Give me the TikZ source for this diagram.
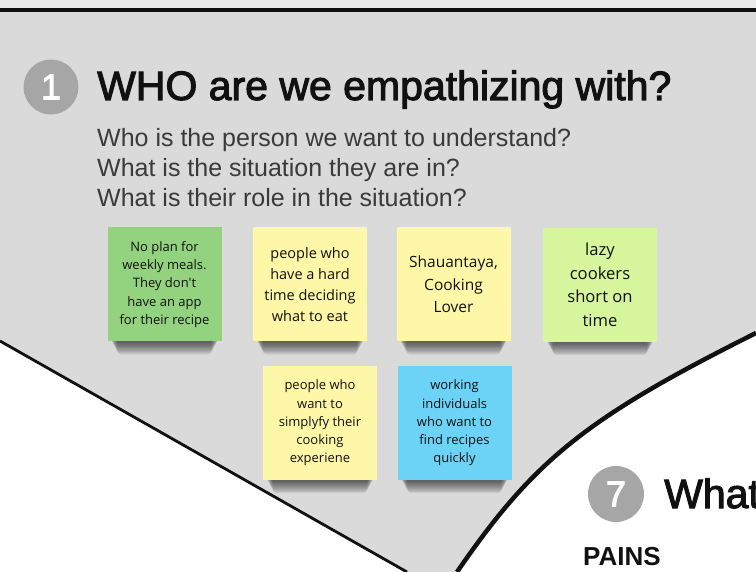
\documentclass[tikz,border=0pt]{standalone}
\usepackage{fontspec}
\setmainfont{Liberation Sans}
\newfontfamily\notefont{Open Sans}
\newfontfamily\headfont[FakeBold=2.5]{Liberation Sans}
\pgfdeclarelayer{bg}
\pgfsetlayers{bg,main}
\definecolor{canvasgray}{HTML}{DADADA}
\definecolor{topgray}{HTML}{ECECEC}
\definecolor{numgray}{HTML}{A6A6A6}
\definecolor{subgray}{HTML}{3A3A3A}
\definecolor{inkblack}{HTML}{111111}
\definecolor{notegreen}{HTML}{93D27E}
\definecolor{noteyellow}{HTML}{FFF7A8}
\definecolor{notelime}{HTML}{D6F59C}
\definecolor{noteblue}{HTML}{6DD3F6}
\tikzset{
  sticky/.style={minimum width=114pt, minimum height=114pt, inner sep=0pt,
    align=center, text=inkblack},
  stickyshade/.style={fill=black, opacity=0.075, rounded corners=4pt},
  numcircle/.style={circle, fill=numgray, text=white, minimum size=55pt,
    inner sep=0pt, font=\headfont\fontsize{36}{36}\selectfont},
  heading/.style={anchor=base west, inner sep=0pt, text=inkblack,
    font=\headfont\fontsize{41}{41}\selectfont},
  question/.style={anchor=base west, inner sep=0pt, text=subgray,
    font=\fontsize{25}{25}\selectfont},
}

\begin{document}
\begin{tikzpicture}[x=1pt,y=-1pt]
        \useasboundingbox (0,0) rectangle (756,572);
        \begin{pgfonlayer}{bg}
                \fill[white] (0,0) rectangle (756,572);
                \fill[topgray] (0,0) rectangle (756,10);
                \fill[canvasgray] (0,10) -- (756,10) -- (756,333)
                        .. controls (586,418) and (534,460) .. (457,572)
                        -- (407,572) -- (0,341) -- cycle;
                \draw[line width=4pt, inkblack] (0,10) -- (756,10);
                \draw[line width=2.8pt, inkblack] (0,341) -- (407,572);
                \draw[line width=4.5pt, inkblack] (756,333)
                        .. controls (586,418) and (534,460) .. (457,572);
        \end{pgfonlayer}
        \node (one) [numcircle] at (51,87) {1};
        \node (who) [heading] at (97,100) {WHO are we empathizing with?};
        \node (q1) [question] at (97,147) {Who is the person we want to understand?};
        \node (q2) [question] at (97,177) {What is the situation they are in?};
        \node (q3) [question] at (97,207) {What is their role in the situation?};
        \node (noplan) [sticky, fill=notegreen, font=\notefont\fontsize{13}{18.3}\selectfont] at (164.5,284.5)
                {No plan for\\weekly meals.\\They don't\\have an app\\for their recipe};
        \node (hardtime) [sticky, fill=noteyellow, font=\notefont\fontsize{14.5}{21}\selectfont] at (310,284.5)
                {people who\\have a hard\\time deciding\\what to eat};
        \node (shauantaya) [sticky, fill=noteyellow, font=\notefont\fontsize{15.5}{22.5}\selectfont] at (453.5,284.5)
                {Shauantaya,\\Cooking\\Lover};
        \node (lazy) [sticky, fill=notelime, font=\notefont\fontsize{16.6}{23.5}\selectfont] at (600,285)
                {lazy\\cookers\\short on\\time};
        \node (simplify) [sticky, fill=noteyellow, font=\notefont\fontsize{13}{18.2}\selectfont] at (320,423)
                {people who\\want to\\simplyfy their\\cooking\\experiene};
        \node (working) [sticky, fill=noteblue, font=\notefont\fontsize{13}{18.2}\selectfont] at (454.5,423)
                {working\\individuals\\who want to\\find recipes\\quickly};
        \node (seven) [numcircle, minimum size=56pt] at (616,494) {7};
        \node (what) [heading] at (664,508) {What};
        \node (pains) [anchor=base west, inner sep=0pt, text=inkblack,
                font=\bfseries\fontsize{26}{26}\selectfont] at (583,565) {PAINS};
        \begin{pgfonlayer}{bg}
                \foreach \n in {noplan,hardtime,shauantaya,lazy,simplify,working}
                        \foreach \k in {1,...,10}
                                \fill[stickyshade] ([xshift={(3+0.7*\k)*1pt}, yshift=10pt] \n.south west)
                                        rectangle ([xshift={(-3-0.7*\k)*1pt}, yshift={-1.3*\k*1pt}] \n.south east);
        \end{pgfonlayer}
\end{tikzpicture}
\end{document}
